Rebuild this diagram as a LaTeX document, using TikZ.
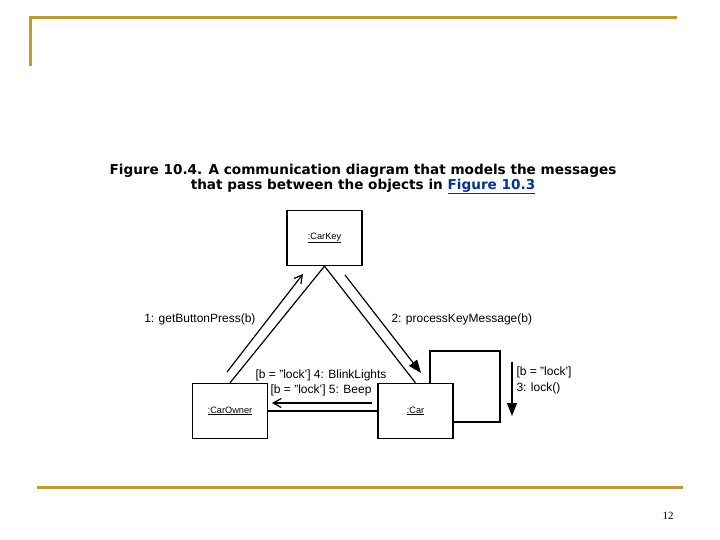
\documentclass[tikz,border=0pt]{standalone}
\usepackage{fontspec}
\setmainfont{Liberation Sans}
\newfontfamily\capfont{DejaVu Sans}
\newfontfamily\numfont{Liberation Serif}
\usepackage{xcolor}
\usetikzlibrary{arrows.meta,positioning}
\definecolor{gold}{RGB}{190,156,45}
\definecolor{linkc}{RGB}{0,51,153}

\tikzset{
  obj/.style={draw,line width=1.3pt,fill=white,minimum width=75pt,minimum height=55pt,inner sep=0pt,font=\fontsize{9.2}{10}\selectfont},
  msg/.style={font=\fontsize{12}{15}\selectfont},
  link/.style={line width=1.2pt},
  callopen/.style={line width=1.2pt,-{Straight Barb[length=8pt,width=9pt,line width=1.2pt]}},
  callfill/.style={line width=1.2pt,-{Triangle[length=13pt,width=10pt]}}
}

\begin{document}
\begin{tikzpicture}[x=1pt,y=-1pt]
  \useasboundingbox (0,0) rectangle (720,540);
  % slide frame
  \draw[gold,line width=3pt] (30,66)--(30,18)--(677,18);
  \draw[gold,line width=3pt] (37,487)--(683,487);
  \node[font=\numfont\fontsize{11}{12}\selectfont] (pagenum) at (668,516) {12};
  % caption
  \node[font=\capfont\bfseries\fontsize{13.6}{15}\selectfont,align=center] (caption) at (363,179)
    {Figure 10.4. A communication diagram that models the messages\\
     that pass between the objects in {\color{linkc}\underline{Figure 10.3}}};
  % objects
  \node[obj] (carkey) at (324.5,238) {\underline{:CarKey}};
  \node[obj] (owner) at (230,411) {\underline{:CarOwner}};
  \node[obj,minimum width=70pt,minimum height=71pt] (carset) at (465,386.5) {};
  \node[obj] (car) at (415.5,411) {\underline{:Car}};
  % links
  \draw[link] (owner.north) -- (carkey.south);
  \draw[link] (carkey.south) -- (car.north);
  \draw[link] (owner.east) -- (car.west);
  % messages
  \coordinate (m1s) at (227,372);
  \coordinate (m1e) at (303,274);
  \draw[callopen] (m1s) -- (m1e);
  \node[msg,anchor=east] (m1) at (259,319) {1: getButtonPress(b)};
  \coordinate (m2s) at (345,275);
  \coordinate (m2e) at (421,373);
  \draw[callfill] (m2s) -- (m2e);
  \node[msg,anchor=west] (m2) at (388,319) {2: processKeyMessage(b)};
  \coordinate (m4s) at (372,403);
  \coordinate (m4e) at (272,403);
  \draw[callopen] (m4s) -- (m4e);
  \node[msg,anchor=east] (m4) at (390,375) {[b = "lock'] 4: BlinkLights};
  \node[msg,anchor=east] (m5) at (375,390) {[b = "lock'] 5: Beep};
  \coordinate (m3s) at (512,362);
  \coordinate (m3e) at (512,416);
  \draw[callfill] (m3s) -- (m3e);
  \node[msg,anchor=west,align=left,font=\fontsize{12}{16}\selectfont] (m3) at (513,380) {[b = "lock']\\3: lock()};
\end{tikzpicture}
\end{document}
